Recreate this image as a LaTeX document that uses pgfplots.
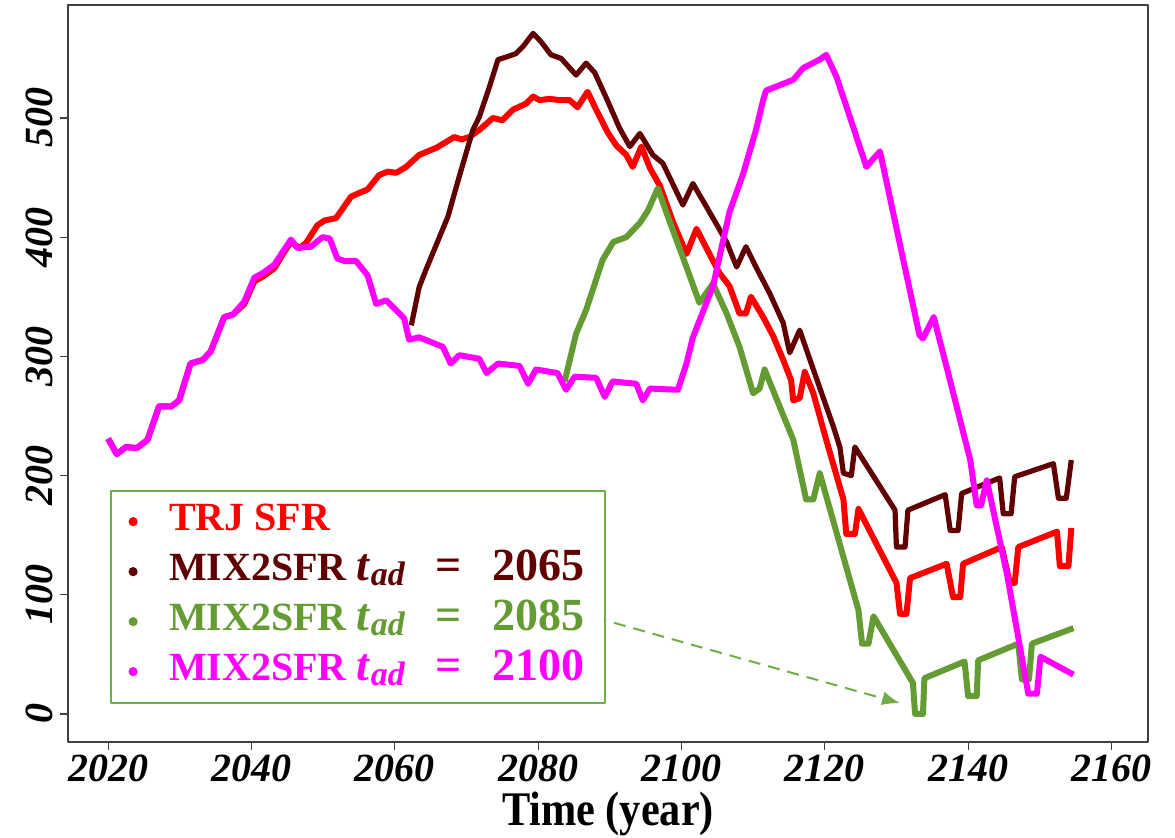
\documentclass[border=0pt]{standalone}
\usepackage{pgfplots}
\pgfplotsset{compat=1.18}
\usepackage{fontspec}
\setmainfont{Liberation Serif}
\usetikzlibrary{arrows.meta}
\definecolor{trj}{RGB}{255,0,0}
\definecolor{mixa}{RGB}{96,0,0}
\definecolor{mixb}{RGB}{100,155,50}
\definecolor{mixc}{RGB}{255,0,255}
\definecolor{boxgreen}{RGB}{112,173,71}
\newcommand{\tad}[1]{{\fontsize{23}{22}\selectfont\textit{t}\raisebox{-0.25ex}{\fontsize{17}{17}\selectfont\textit{ad}}\ \ \,=\ \ \,#1}\hspace*{5pt}}

\begin{document}
\begin{tikzpicture}
\begin{axis}[
scale only axis,
width=540pt, height=368.5pt,
xmin=2014.4, xmax=2165.1,
ymin=-23.5, ymax=594.8,
xtick={2020,2040,...,2160},
ytick={0,100,...,500},
tick align=outside,
xtick pos=bottom, ytick pos=left,
major tick length=4pt,
axis line style={black!75, line width=0.6pt},
tick style={black!75, line width=0.6pt},
/pgf/number format/assume math mode=true,
/pgf/number format/1000 sep={},
ticklabel style={font=\fontsize{20}{20}\selectfont\bfseries\itshape},
xticklabel style={yshift=1pt},
yticklabel style={rotate=90, anchor=south},
xlabel={Time (year)},
xlabel style={font=\fontsize{23}{23}\selectfont\bfseries, xscale=0.92, yscale=1.05, yshift=2pt},
legend style={at={(0.039,0.052)}, anchor=south west, draw=boxgreen,
  line width=1pt, fill=white, inner xsep=3pt, inner ysep=4pt, row sep=2pt,
  font=\fontsize{20}{22}\selectfont\bfseries,
  nodes={text height=14pt, text depth=5pt}},
legend cell align=left,
legend image code/.code={\path[draw=none] (0pt,0pt) -- (24pt,0pt); \fill[draw=none] (8pt,0pt) circle (2.3pt);},
line join=round,
]
% TRJ SFR
\addplot[trj, line width=3pt] table {
2020 231
2021.2 218
2022.5 224
2024 223
2025.5 230
2027.1 258
2028.8 258
2029.9 263
2031.5 294
2033.2 297
2034.3 304
2036.2 333
2037.4 335
2039.0 344
2040.4 363
2041.6 367
2043.2 374
2044.4 386
2045.5 396
2046.7 391
2047.6 395
2049.2 410
2050.2 414
2051.8 416
2053.9 434
2055 437
2056.2 440
2057.8 452
2059 455
2060.2 454
2061.6 459
2063.4 469
2065.8 475
2067.2 480
2068.3 484
2069.3 482
2070.4 484
2071.8 490
2073.7 500
2075 498
2076.5 507
2078.3 512
2079.3 518
2080.2 515
2081.6 516
2083 515
2084.4 515
2085.5 509
2086.9 522
2088.1 507
2089.7 488
2090.9 477
2092.3 469
2093.2 459
2094.4 476
2095.6 458
2097 443
2098.8 413
2100.7 386
2102.1 407
2103.9 386
2105.3 370
2106.7 359
2108.1 336
2109 336
2109.7 350
2111.4 333
2112.8 317
2114.2 297
2115.3 280
2115.6 263
2116.5 265
2117.2 287
2118.4 269
2120.2 230
2122.6 180
2123 151
2124.2 151
2124.7 172
2130 110
2130.5 84
2131.4 84
2131.9 114
2137 126
2137.9 98
2138.9 98
2139.3 126
2144.7 140
2145.8 110
2146.5 110
2147 140
2152.4 153
2152.8 124
2154 124
2154.4 156
};
\addlegendentry{\textcolor{trj}{TRJ SFR}}
% MIX2SFR t_ad = 2065
\addplot[mixa, line width=2.6pt] table {
2062.3 326
2063.4 358
2064.3 372
2067.4 417
2069 451
2070.9 490
2071.8 501
2073.2 526
2074.4 549
2075.5 551
2076.9 554
2077.9 560
2079.3 571
2080.4 564
2081.8 553
2083.2 550
2085.3 536
2086.7 546
2087.9 538
2089.5 517
2091.4 491
2092.8 476
2094.2 487
2096 469
2097.4 462
2100.2 427
2101.6 445
2104.4 416
2106.3 396
2107.7 375
2109 392
2110.4 375
2112.3 353
2114.2 328
2115.1 303
2116.5 322
2118.4 289
2121.2 241
2122.1 224
2122.6 202
2123.7 200
2124.2 224
2129.8 171
2130 140
2131.2 140
2131.6 171
2136.8 184
2137.5 154
2138.6 154
2139.1 185
2144.4 198
2144.9 168
2146 168
2146.5 199
2151.9 210
2152.6 181
2153.7 181
2154.4 213
};
\addlegendentry{\textcolor{mixa}{MIX2SFR \tad{2065}}}
% MIX2SFR t_ad = 2085
\addplot[mixb, line width=3pt] table {
2083.7 279
2085.3 319
2086.7 339
2089 381
2090.5 396
2092.3 400
2094.2 412
2095.3 422
2096.7 441
2098.3 414
2100.7 375
2102.5 345
2104.4 361
2106.3 336
2108.1 308
2110 269
2110.9 273
2111.6 289
2113.7 258
2115.6 230
2117.4 180
2118.4 180
2119.3 202
2124.7 87
2125.2 59
2126.1 59
2126.8 82
2132.3 26
2132.6 0
2133.7 0
2133.9 30
2139.5 44
2140 15
2141.2 15
2141.4 45
2147 59
2147.5 29
2148.5 29
2148.9 59
2154.7 72
};
\addlegendentry{\textcolor{mixb}{MIX2SFR \tad{2085}}}
% MIX2SFR t_ad = 2100
\addplot[mixc, line width=3pt] table {
2020 231
2021.2 218
2022.5 224
2024 223
2025.5 230
2027.1 258
2028.8 258
2029.9 263
2031.5 294
2033.2 297
2034.3 304
2036.2 333
2037.4 335
2039.0 346
2040.4 366
2041.6 370
2043.2 377
2044.4 388
2045.5 398
2046.4 391
2048.3 392
2049.9 400
2050.9 399
2052 382
2053 380
2054.6 380
2056.2 368
2057.4 344
2058.8 347
2061.3 332
2062.0 314
2063.4 316
2066.7 308
2067.8 294
2069 301
2071.8 298
2072.8 286
2074.4 294
2077.4 292
2078.6 277
2079.7 289
2082.7 286
2083.9 272
2085.1 283
2088.1 282
2089.3 266
2090.4 279
2093.7 277
2094.6 263
2095.6 273
2099.5 272
2100.7 294
2101.6 316
2104.4 359
2106.7 421
2108.6 453
2110.4 490
2111.4 515
2111.8 523
2115.6 532
2117 542
2119.3 549
2120.2 553
2121.6 535
2123 510
2125.8 459
2127.7 472
2133.2 318
2133.7 315
2135.2 333
2137 291
2140.3 213
2141.2 175
2141.8 175
2142.6 196
2145.4 118
2148.4 17
2149.6 17
2150.1 48
2154.7 33
};
\addlegendentry{\textcolor{mixc}{MIX2SFR \tad{2100}}}
\draw[boxgreen, line width=1pt, dash pattern=on 6pt off 4pt,
  -{Latex[length=9pt,width=7pt]}] (axis cs:2087.9,81) -- (axis cs:2130.5,9);
\end{axis}
\pgfresetboundingbox
\path (-34pt,-48pt) rectangle (553.5pt,371pt);
\end{tikzpicture}
\end{document}
